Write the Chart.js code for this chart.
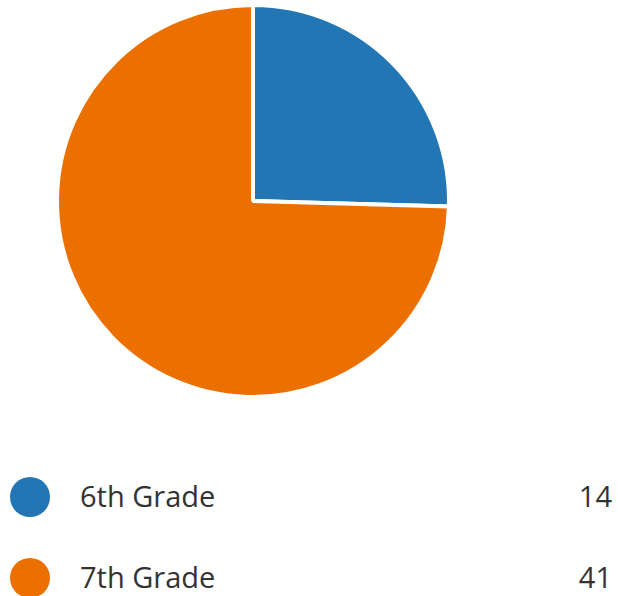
<!DOCTYPE html>
<html>
<head>
<meta charset="utf-8">
<script src="https://cdn.jsdelivr.net/npm/chart.js@4.4.1/dist/chart.umd.min.js"></script>
<style>
  html, body { margin: 0; padding: 0; background: #ffffff; }
  body { width: 618px; height: 596px; position: relative; overflow: hidden; font-family: 'Open Sans', 'Noto Sans', sans-serif; }
  .chart-box { position: absolute; left: 0; top: 0; width: 506px; height: 402px; }
  .legend { position: absolute; left: 0; top: 470px; width: 618px; }
  .legend-row { position: relative; height: 81px; }
  .dot { position: absolute; left: 10px; top: 7px; width: 40px; height: 40px; border-radius: 50%; }
  .label { position: absolute; left: 80px; top: 6px; font-size: 29px; line-height: 40px; color: #333333; }
  .value { position: absolute; right: 6px; top: 6px; font-size: 29px; line-height: 40px; color: #333333; }
</style>
</head>
<body>
<div class="chart-box"><canvas id="pie"></canvas></div>
<div class="legend" id="legend"></div>
<script>
const categories = ['6th Grade', '7th Grade'];
const counts = [14, 41];
const colors = ['#2176b3', '#ec7000'];

const legend = document.getElementById('legend');
categories.forEach((name, i) => {
    const row = document.createElement('div');
    row.className = 'legend-row';
    row.innerHTML = '<span class="dot" style="background:' + colors[i] + '"></span>' +
        '<span class="label">' + name + '</span>' +
        '<span class="value">' + counts[i] + '</span>';
    legend.appendChild(row);
});

new Chart(document.getElementById('pie'), {
    type: 'pie',
    data: {
        labels: categories,
        datasets: [{
            data: counts,
            backgroundColor: colors,
            borderColor: '#ffffff',
            borderWidth: 4
        }]
    },
    options: {
        responsive: true,
        maintainAspectRatio: false,
        animation: false,
        radius: 196,
        plugins: {
            legend: { display: false },
            tooltip: { enabled: false }
        }
    }
});
</script>
</body>
</html>
